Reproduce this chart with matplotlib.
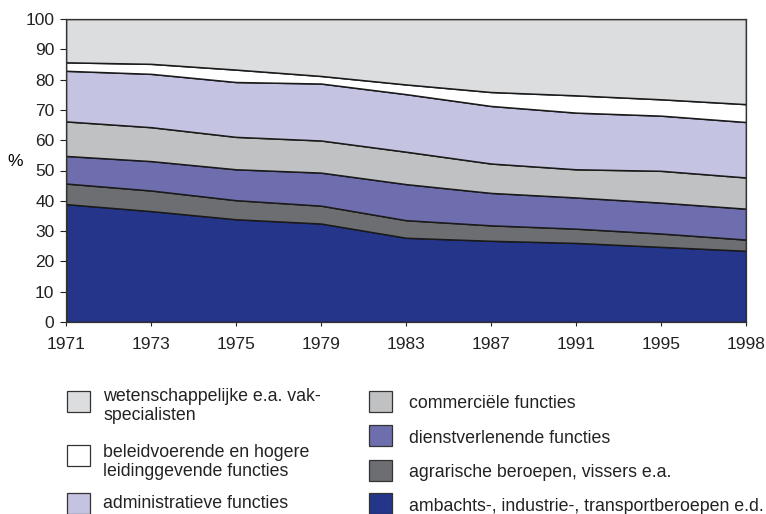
import numpy as np
import matplotlib.pyplot as plt
from matplotlib.patches import Rectangle

plt.rcParams['font.family'] = ['Liberation Sans', 'DejaVu Sans']

# jaren (categorische as, gelijke afstanden)
years = ['1971', '1973', '1975', '1979', '1983', '1987', '1991', '1995', '1998']

# aandelen per beroepsklasse (%), van onder naar boven
ambachts = [38.9, 36.6, 33.9, 32.5, 27.8, 26.8, 26.1, 24.8, 23.5]
agrarisch = [6.8, 6.8, 6.3, 5.9, 5.8, 5.1, 4.7, 4.4, 3.7]
dienst = [9.1, 9.7, 10.2, 10.9, 11.9, 10.7, 10.3, 10.2, 10.2]
commercieel = [11.4, 11.2, 10.7, 10.6, 10.7, 9.7, 9.3, 10.5, 10.3]
administratief = [16.7, 17.6, 18.1, 18.8, 19.0, 19.0, 18.7, 18.2, 18.3]
beleid = [2.8, 3.3, 4.1, 2.5, 3.2, 4.6, 5.7, 5.4, 5.9]

series = [ambachts, agrarisch, dienst, commercieel, administratief, beleid]
top = 100 - np.sum(series, axis=0)  # rest: wetenschappelijke e.a. vakspecialisten
series.append(top)

kleuren = ['#24358a', '#6d6e71', '#6e6eaf', '#c0c1c3', '#c4c4e2', '#ffffff', '#dcdddf']
labels = [['ambachts-, industrie-, transportberoepen e.d.'],
          ['agrarische beroepen, vissers e.a.'],
          ['dienstverlenende functies'],
          ['commerciële functies'],
          ['administratieve functies'],
          ['beleidvoerende en hogere', 'leidinggevende functies'],
          ['wetenschappelijke e.a. vak-', 'specialisten']]

W, H = 766, 514
fig = plt.figure(figsize=(W / 100, H / 100), dpi=100)
ax = fig.add_axes([66 / W, 1 - 322 / H, 680 / W, 303 / H])

x = np.arange(len(years))
ax.stackplot(x, *series, colors=kleuren, edgecolor='#1a1a1a', linewidth=1.1)

ax.set_xlim(0, len(years) - 1)
ax.set_ylim(0, 100)
ax.set_xticks(x)
ax.set_xticklabels(years, fontsize=12.5)
ax.set_yticks(range(0, 101, 10))
ax.tick_params(axis='y', labelsize=12.5, length=4.3, width=0.8, pad=4, colors='#222222')
ax.tick_params(axis='x', length=3, width=0.8, pad=8, colors='#222222')
for s in ax.spines.values():
    s.set_color('#333333')
    s.set_linewidth(0.9)
ax.set_ylabel('%', rotation=0, fontsize=12.5, va='center')
ax.yaxis.set_label_coords(-51 / 680, (322 - 161) / 303)

# legenda, handmatig in twee kolommen
def legitem(xbox, ybox, kleur, regels, baselines, xtekst):
    fig.add_artist(Rectangle((xbox / W, 1 - (ybox + 21) / H), 23 / W, 21 / H,
                             transform=fig.transFigure, facecolor=kleur,
                             edgecolor='#333333', linewidth=0.9))
    for regel, yb in zip(regels, baselines):
        fig.text(xtekst / W, 1 - yb / H, regel, fontsize=12.8, va='baseline',
                 ha='left', color='#222222')

legitem(67, 391, kleuren[6], labels[6], [401, 420], 103)
legitem(67, 445, kleuren[5], labels[5], [457, 476.5], 103)
legitem(67, 493, kleuren[4], labels[4], [508], 103)
legitem(369, 391, kleuren[3], labels[3], [408], 409)
legitem(369, 425, kleuren[2], labels[2], [443], 409)
legitem(369, 460, kleuren[1], labels[1], [477], 409)
legitem(369, 493, kleuren[0], labels[0], [511], 409)

fig.savefig('out.png', dpi=100)
